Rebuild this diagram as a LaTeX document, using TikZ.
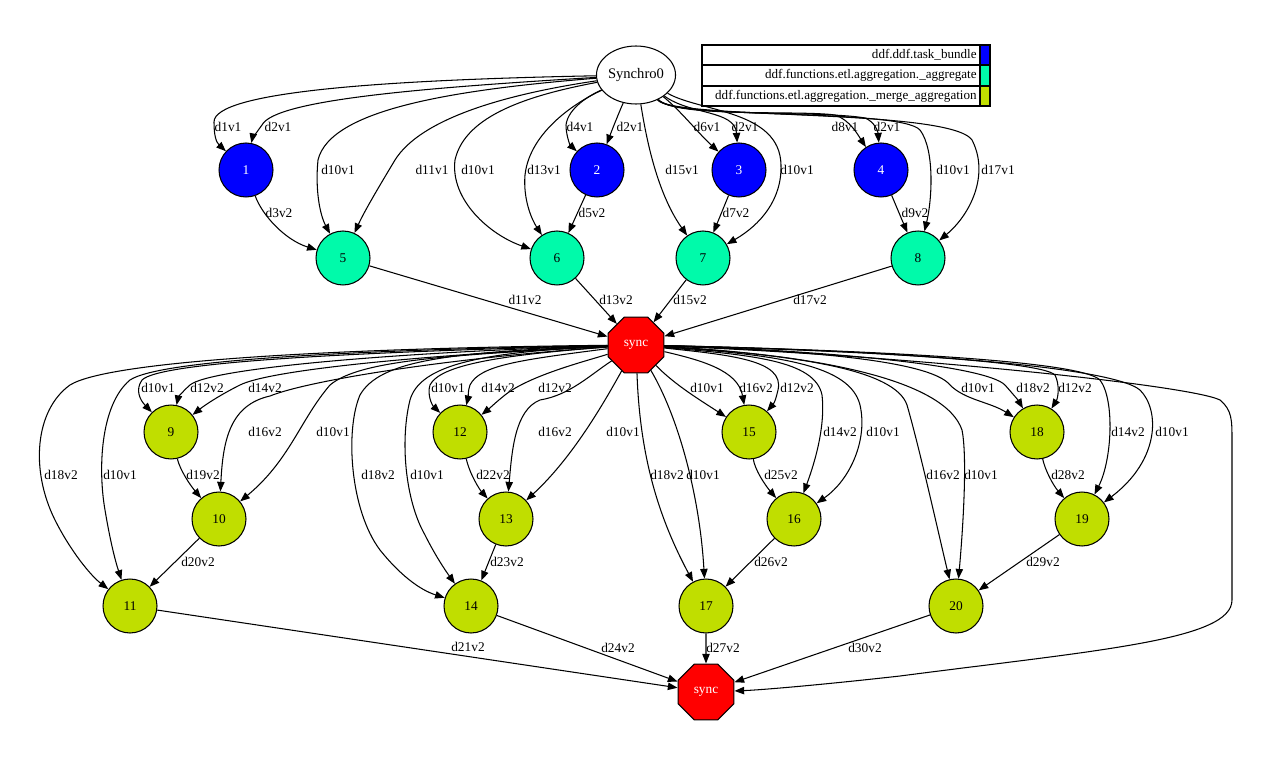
\documentclass[tikz,border=0pt]{standalone}
\usepackage{fontspec}
\setmainfont{Liberation Serif}
\usetikzlibrary{arrows.meta,shapes.geometric}
\definecolor{taskblue}{RGB}{0,0,255}
\definecolor{aggrgreen}{RGB}{0,250,170}
\definecolor{mergegreen}{RGB}{192,222,0}

\begin{document}
\begin{tikzpicture}[x=0.02cm,y=-0.02cm,font=\fontsize{7.6}{9}\selectfont,
    dep/.style={-{Triangle[length=5.5pt,width=4.2pt]},line width=0.6pt},
    lbl/.style={inner sep=0pt},
    keytext/.style={inner sep=0pt,anchor=east,font=\fontsize{7.45}{9}\selectfont},
    task/.style={circle,draw,line width=0.6pt,fill=taskblue,text=white,minimum size=1.08cm,inner sep=0pt},
    aggr/.style={task,fill=aggrgreen,text=black},
    merge/.style={task,fill=mergegreen,text=black},
    syncbox/.style={regular polygon,regular polygon sides=8,draw,line width=0.6pt,fill=red,text=white,minimum size=1.21cm,inner sep=0pt}]
    \useasboundingbox (0,0) rectangle (1272,760);
    % nodes
    \node[ellipse,draw,line width=0.6pt,minimum width=1.52cm,minimum height=1.16cm,inner sep=0pt,font=\fontsize{8.3}{10}\selectfont] (s0) at (636,75) {Synchro0};
    \node[task] (n1) at (246,170) {1};
    \node[task] (n2) at (597,170) {2};
    \node[task] (n3) at (739,170) {3};
    \node[task] (n4) at (881,170) {4};
    \node[aggr] (n5) at (343,258) {5};
    \node[aggr] (n6) at (557,258) {6};
    \node[aggr] (n7) at (703,258) {7};
    \node[aggr] (n8) at (918,258) {8};
    \node[syncbox] (sy1) at (636,345) {sync};
    \node[merge] (n9) at (171,432) {9};
    \node[merge] (n10) at (219,519) {10};
    \node[merge] (n11) at (130,606) {11};
    \node[merge] (n12) at (460,432) {12};
    \node[merge] (n13) at (506,519) {13};
    \node[merge] (n14) at (471,606) {14};
    \node[merge] (n15) at (749,432) {15};
    \node[merge] (n16) at (794,519) {16};
    \node[merge] (n17) at (706,606) {17};
    \node[merge] (n18) at (1037,432) {18};
    \node[merge] (n19) at (1082,519) {19};
    \node[merge] (n20) at (956,606) {20};
    \node[syncbox] (sy2) at (706,692) {sync};
    % legend
    \draw[line width=0.6pt] (702,45) rectangle (990,106);
    \draw[line width=0.6pt] (702,65) -- (990,65);
    \draw[line width=0.6pt] (702,86) -- (990,86);
    \draw[line width=0.6pt,fill=taskblue] (980,45) rectangle (990,65);
    \draw[line width=0.6pt,fill=aggrgreen] (980,65) rectangle (990,86);
    \draw[line width=0.6pt,fill=mergegreen] (980,86) rectangle (990,106);
    \node[keytext] (k1) at (977,55) {ddf.ddf.task\_bundle};
    \node[keytext] (k2) at (977,75.5) {ddf.functions.etl.aggregation.\_aggregate};
    \node[keytext] (k3) at (977,96) {ddf.functions.etl.aggregation.\_merge\_aggregation};
    % Synchro0 -> tasks and aggregates
    \draw[dep] (s0) .. controls (380,80) and (214,92) .. (214,122) .. controls (214,135) and (216,142) .. (n1) node[lbl] at (228,127) {d1v1};
    \draw[dep] (s0) .. controls (420,88) and (275,100) .. (262,125) .. controls (256,133) and (252,140) .. (n1) node[lbl] at (278,127) {d2v1};
    \draw[dep] (s0) .. controls (450,90) and (330,110) .. (318,160) .. controls (315,190) and (320,215) .. (n5) node[lbl] at (338,170) {d10v1};
    \draw[dep] (s0) .. controls (500,95) and (420,120) .. (395,160) .. controls (380,185) and (365,210) .. (n5) node[lbl] at (432,170) {d11v1};
    \draw[dep] (s0) .. controls (530,95) and (465,115) .. (455,160) .. controls (450,200) and (490,235) .. (n6) node[lbl] at (478,170) {d10v1};
    \draw[dep] (s0) .. controls (580,100) and (530,130) .. (525,175) .. controls (523,200) and (532,220) .. (n6) node[lbl] at (544,170) {d13v1};
    \draw[dep] (s0) .. controls (590,95) and (568,108) .. (566,125) .. controls (566,135) and (570,145) .. (n2) node[lbl] at (580,127) {d4v1};
    \draw[dep] (s0) .. controls (620,110) and (612,130) .. (n2) node[lbl] at (630,127) {d2v1};
    \draw[dep] (s0) .. controls (645,130) and (655,190) .. (n7) node[lbl] at (682,170) {d15v1};
    \draw[dep] (s0) .. controls (700,112) and (780,110) .. (781,165) .. controls (782,200) and (760,225) .. (n7) node[lbl] at (797,170) {d10v1};
    \draw[dep] (s0) .. controls (680,110) and (700,135) .. (n3) node[lbl] at (707,127) {d6v1};
    \draw[dep] (s0) .. controls (690,115) and (735,110) .. (n3) node[lbl] at (745,127) {d2v1};
    \draw[dep] (s0) .. controls (675,118) and (800,110) .. (835,115) .. controls (850,120) and (858,135) .. (n4) node[lbl] at (845,127) {d8v1};
    \draw[dep] (s0) .. controls (675,118) and (820,110) .. (865,118) .. controls (875,122) and (878,132) .. (n4) node[lbl] at (887,127) {d2v1};
    \draw[dep] (s0) .. controls (675,120) and (900,108) .. (920,130) .. controls (935,150) and (932,200) .. (n8) node[lbl] at (953,170) {d10v1};
    \draw[dep] (s0) .. controls (675,120) and (950,108) .. (972,140) .. controls (990,175) and (970,215) .. (n8) node[lbl] at (998,170) {d17v1};
    \draw[dep] (n1) .. controls (262,215) and (285,240) .. (n5) node[lbl] at (279,213) {d3v2};
    \draw[dep] (n2) -- (n6) node[lbl] at (592,213) {d5v2};
    \draw[dep] (n3) -- (n7) node[lbl] at (736,213) {d7v2};
    \draw[dep] (n4) -- (n8) node[lbl] at (915,213) {d9v2};
    \draw[dep] (n5) -- (sy1) node[lbl] at (525,300) {d11v2};
    \draw[dep] (n6) -- (sy1) node[lbl] at (616,300) {d13v2};
    \draw[dep] (n7) -- (sy1) node[lbl] at (690,300) {d15v2};
    \draw[dep] (n8) -- (sy1) node[lbl] at (810,300) {d17v2};
    % sync -> merges
    \draw[dep] (sy1) .. controls (350,348) and (110,360) .. (70,385) .. controls (35,410) and (30,470) .. (55,520) .. controls (70,550) and (90,575) .. (n11) node[lbl] at (61,475) {d18v2};
    \draw[dep] (sy1) .. controls (350,350) and (160,360) .. (130,380) .. controls (100,405) and (98,470) .. (105,510) .. controls (110,540) and (115,560) .. (n11) node[lbl] at (120,475) {d10v1};
    \draw[dep] (sy1) .. controls (350,352) and (160,362) .. (142,380) .. controls (135,390) and (140,400) .. (n9) node[lbl] at (158,388) {d10v1};
    \draw[dep] (sy1) .. controls (400,352) and (210,368) .. (190,385) .. controls (182,392) and (178,398) .. (n9) node[lbl] at (207,388) {d12v2};
    \draw[dep] (sy1) .. controls (420,355) and (270,370) .. (240,385) .. controls (220,395) and (205,405) .. (n9) node[lbl] at (265,388) {d14v2};
    \draw[dep] (sy1) .. controls (450,358) and (310,380) .. (270,396) .. controls (230,405) and (223,440) .. (n10) node[lbl] at (265,432) {d16v2};
    \draw[dep] (sy1) .. controls (450,355) and (360,360) .. (330,385) .. controls (300,420) and (290,460) .. (n10) node[lbl] at (333,432) {d10v1};
    \draw[dep] (n9) .. controls (180,470) and (190,485) .. (n10) node[lbl] at (203,475) {d19v2};
    \draw[dep] (n10) -- (n11) node[lbl] at (198,562) {d20v2};
    \draw[dep] (sy1) .. controls (450,352) and (380,360) .. (360,395) .. controls (345,430) and (350,510) .. (380,550) .. controls (400,575) and (420,590) .. (n14) node[lbl] at (378,475) {d18v2};
    \draw[dep] (sy1) .. controls (480,352) and (420,365) .. (410,400) .. controls (400,440) and (405,500) .. (425,535) .. controls (435,555) and (445,570) .. (n14) node[lbl] at (427,475) {d10v1};
    \draw[dep] (sy1) .. controls (500,355) and (440,365) .. (430,385) .. controls (427,395) and (432,405) .. (n12) node[lbl] at (448,388) {d10v1};
    \draw[dep] (sy1) .. controls (520,360) and (480,365) .. (470,385) .. controls (468,390) and (468,398) .. (n12) node[lbl] at (498,388) {d14v2};
    \draw[dep] (sy1) .. controls (590,360) and (530,375) .. (505,395) .. controls (495,403) and (490,408) .. (n12) node[lbl] at (555,388) {d12v2};
    \draw[dep] (sy1) .. controls (590,375) and (570,395) .. (540,400) .. controls (515,410) and (512,450) .. (n13) node[lbl] at (555,432) {d16v2};
    \draw[dep] (sy1) .. controls (600,410) and (570,460) .. (n13) node[lbl] at (623,432) {d10v1};
    \draw[dep] (n12) .. controls (470,475) and (480,490) .. (n13) node[lbl] at (493,475) {d22v2};
    \draw[dep] (n13) -- (n14) node[lbl] at (507,562) {d23v2};
    \draw[dep] (sy1) .. controls (640,460) and (660,520) .. (n17) node[lbl] at (667,475) {d18v2};
    \draw[dep] (sy1) .. controls (680,420) and (700,500) .. (n17) node[lbl] at (703,475) {d10v1};
    \draw[dep] (sy1) .. controls (675,385) and (700,400) .. (n15) node[lbl] at (707,388) {d10v1};
    \draw[dep] (sy1) .. controls (700,360) and (738,370) .. (n15) node[lbl] at (756,388) {d16v2};
    \draw[dep] (sy1) .. controls (730,355) and (785,360) .. (778,390) .. controls (776,398) and (775,402) .. (n15) node[lbl] at (797,388) {d12v2};
    \draw[dep] (sy1) .. controls (750,355) and (815,360) .. (822,395) .. controls (826,430) and (812,470) .. (n16) node[lbl] at (840,432) {d14v2};
    \draw[dep] (sy1) .. controls (780,355) and (850,365) .. (860,405) .. controls (868,440) and (850,480) .. (n16) node[lbl] at (883,432) {d10v1};
    \draw[dep] (n15) .. controls (755,470) and (765,485) .. (n16) node[lbl] at (781,475) {d25v2};
    \draw[dep] (n16) -- (n17) node[lbl] at (771,562) {d26v2};
    \draw[dep] (sy1) .. controls (800,355) and (895,370) .. (907,405) .. controls (920,450) and (940,540) .. (n20) node[lbl] at (943,475) {d16v2};
    \draw[dep] (sy1) .. controls (820,355) and (945,380) .. (962,430) .. controls (968,460) and (962,540) .. (n20) node[lbl] at (981,475) {d10v1};
    \draw[dep] (sy1) .. controls (800,350) and (930,360) .. (950,385) .. controls (965,400) and (990,402) .. (n18) node[lbl] at (978,388) {d10v1};
    \draw[dep] (sy1) .. controls (820,350) and (985,365) .. (1005,385) .. controls (1012,393) and (1018,400) .. (n18) node[lbl] at (1033,388) {d18v2};
    \draw[dep] (sy1) .. controls (840,350) and (1040,360) .. (1055,375) .. controls (1060,385) and (1058,398) .. (n18) node[lbl] at (1075,388) {d12v2};
    \draw[dep] (sy1) .. controls (860,350) and (1080,360) .. (1100,380) .. controls (1115,400) and (1112,460) .. (n19) node[lbl] at (1128,432) {d14v2};
    \draw[dep] (sy1) .. controls (880,350) and (1110,365) .. (1140,390) .. controls (1160,410) and (1160,460) .. (n19) node[lbl] at (1172,432) {d10v1};
    \draw[dep] (n18) .. controls (1045,470) and (1053,485) .. (n19) node[lbl] at (1068,475) {d28v2};
    \draw[dep] (n19) -- (n20) node[lbl] at (1043,562) {d29v2};
    % merges -> final sync
    \draw[dep] (sy1) .. controls (900,355) and (1190,385) .. (1220,400) .. controls (1232,410) and (1232,420) .. (1232,440) -- (1232,600) .. controls (1232,640) and (1100,650) .. (900,676) .. controls (820,685) and (760,690) .. (sy2);
    \draw[dep] (n11) -- (sy2) node[lbl] at (468,647) {d21v2};
    \draw[dep] (n14) -- (sy2) node[lbl] at (618,648) {d24v2};
    \draw[dep] (n17) -- (sy2) node[lbl] at (723,648) {d27v2};
    \draw[dep] (n20) -- (sy2) node[lbl] at (865,648) {d30v2};
\end{tikzpicture}
\end{document}
